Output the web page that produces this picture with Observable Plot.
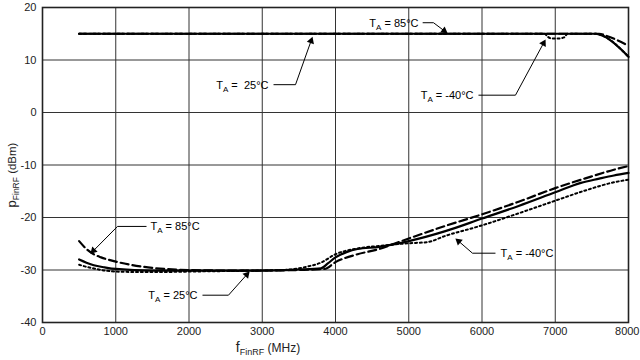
<!DOCTYPE html>
<html><head><meta charset="utf-8">
<script src="https://cdn.jsdelivr.net/npm/d3@7"></script>
<script src="https://cdn.jsdelivr.net/npm/@observablehq/plot@0.6"></script>
<style>
body{margin:0;background:#fff;}
#chart{width:640px;height:360px;}
</style>
</head><body><div id="chart"></div>
<script>
// ---------- data ----------
const xTicks = [0,1000,2000,3000,4000,5000,6000,7000,8000];
const yTicks = [-40,-30,-20,-10,0,10,20];

// upper curves (output power)
const up25X  = [500, 7550, 7650, 8000];
const up25Y  = [15, 15, 14.6, 10.6];
const up85X  = [500, 7600, 7700, 8000];
const up85Y  = [15, 15, 14.6, 12.7];
const upM40X = [500, 6850, 6900, 6950, 7050, 7120, 7170, 7550, 7650, 8000];
const upM40Y = [15, 15, 14.4, 14.1, 14.1, 14.3, 15, 15, 14.6, 10.6];

// lower curves
const lo25X  = [500,600,700,850,1000,1500,2000,2500,3000,3500,3800,3900,4000,4150,4300,4600,5000,5500,6000,6500,7000,7350,7600,7800,8000];
const lo25Y  = [-28,-28.6,-29.1,-29.5,-29.8,-30.1,-30.1,-30.1,-30.1,-29.9,-29.7,-28.7,-27.6,-26.6,-26,-25.6,-24.5,-22.6,-20.2,-17.8,-15.2,-13.4,-12.6,-12,-11.5];
const lo85X  = [500,600,700,800,1000,1200,1500,2000,2500,3000,3500,3850,4000,4300,4600,4800,5000,5500,6000,6500,7000,7400,7800,8000];
const lo85Y  = [-24.5,-26,-27,-27.6,-28.4,-29,-29.6,-30,-30.1,-30.1,-30,-29.8,-28.5,-27,-26,-25,-24,-21.6,-19.4,-17,-14.4,-12.6,-10.9,-10.2];
const loM40X = [500,600,700,850,1000,1500,2000,2500,3000,3300,3600,3800,4000,4300,4600,5000,5250,5500,6000,6500,7000,7400,7800,8000];
const loM40Y = [-29,-29.4,-29.7,-30.1,-30.3,-30.4,-30.3,-30.2,-30.1,-30,-29.4,-28.6,-27,-25.9,-25.4,-24.9,-24.7,-23.5,-21.5,-19.2,-16.8,-14.9,-13.3,-12.8];

// annotations (data coordinates)
const annLabels = ["T_{A} = 85°C","T_{A} =  25°C","T_{A} = -40°C","T_{A} = 85°C","T_{A} = 25°C","T_{A} = -40°C"];
const annTextX  = [5133, 3085, 5884, 1474, 2116, 6253];
const annTextY  = [17.0, 5.2, 3.3, -21.8, -34.8, -26.8];
const annAnchor = ["end","end","end","start","end","start"];
const annLeadX1 = [5190, 3154, 5952, 1420, 2184, 6184];
const annLeadX2 = [5338, 3454, 6457, 1024, 2539, 5870];
const annLeadY  = [17.1, 5.3, 3.3, -21.7, -34.8, -26.8];
const annTipX   = [5529, 3686, 6867, 655, 2826, 5638];
const annTipY   = [15.1, 14.4, 13.9, -26.9, -30.3, -24.0];

const xLabel = "f_{FinRF} (MHz)";
const yLabel = "p_{FinRF} (dBm)";

// ---------- build ----------
const W = 640, H = 360, mL = 42, mR = 12, mT = 7, mB = 38;
const xDomain = [0, 8000], yDomain = [-40, 20];
const sx = Plot.scale({x: {domain: xDomain, range: [mL, W - mR]}});
const sy = Plot.scale({y: {domain: yDomain, range: [H - mB, mT]}});

const pts = (xs, ys) => xs.map((x, i) => ({x, y: ys[i]}));
const headBack = 4.2; // px from tip to triangle centroid
const ann = annLabels.map((t, i) => {
  const p0x = sx.apply(annLeadX2[i]), p0y = sy.apply(annLeadY[i]);
  const p1x = sx.apply(annTipX[i]), p1y = sy.apply(annTipY[i]);
  const dx = p1x - p0x, dy = p1y - p0y, len = Math.hypot(dx, dy);
  const ux = dx / len, uy = dy / len;
  return {
    t, tx: annTextX[i], ty: annTextY[i], anchor: annAnchor[i],
    lx1: annLeadX1[i], lx2: annLeadX2[i], ly: annLeadY[i],
    ax: annTipX[i], ay: annTipY[i],
    hx: sx.invert(p1x - ux * headBack), hy: sy.invert(p1y - uy * headBack),
    rot: Math.atan2(ux, -uy) * 180 / Math.PI
  };
});

const font = "Arial, 'Liberation Sans', Helvetica, sans-serif";
const lineOpts = {x: "x", y: "y", stroke: "#000", strokeWidth: 2.2, curve: "monotone-x"};
const dashed = "8,4";
const dotted = "2,2.8";

const plot = Plot.plot({
  width: W, height: H,
  marginLeft: mL, marginRight: mR, marginTop: mT, marginBottom: mB,
  style: {fontFamily: font, fontSize: "11px", color: "#222", background: "#fff"},
  x: {domain: xDomain, label: null},
  y: {domain: yDomain, label: null},
  marks: [
    Plot.gridX(xTicks, {stroke: "#333", strokeOpacity: 1, strokeWidth: 1}),
    Plot.gridY(yTicks, {stroke: "#333", strokeOpacity: 1, strokeWidth: 1}),
    Plot.frame({stroke: "#222", strokeWidth: 1.6}),
    Plot.axisX(xTicks, {tickSize: 0, tickPadding: 5, label: null, fontSize: 11, tickFormat: d => String(d), className: "xax"}),
    Plot.axisY(yTicks, {tickSize: 0, tickPadding: 6, label: null, fontSize: 11, tickFormat: d => String(d)}),
    Plot.line(pts(up25X, up25Y), lineOpts),
    Plot.line(pts(up85X, up85Y), {...lineOpts, strokeDasharray: dashed}),
    Plot.line(pts(upM40X, upM40Y), {...lineOpts, strokeWidth: 2, strokeDasharray: dotted}),
    Plot.line(pts(lo25X, lo25Y), lineOpts),
    Plot.line(pts(lo85X, lo85Y), {...lineOpts, strokeDasharray: dashed}),
    Plot.line(pts(loM40X, loM40Y), {...lineOpts, strokeWidth: 2, strokeDasharray: dotted}),
    Plot.link(ann, {x1: "lx1", x2: "lx2", y1: "ly", y2: "ly", stroke: "#000", strokeWidth: 1}),
    Plot.link(ann, {x1: "lx2", y1: "ly", x2: "hx", y2: "hy", stroke: "#000", strokeWidth: 1}),
    Plot.dot(ann, {x: "hx", y: "hy", symbol: "triangle", r: 2.8, rotate: "rot", fill: "#000", stroke: "none"}),
    Plot.text(ann.filter(d => d.anchor === "end"), {x: "tx", y: "ty", text: "t", textAnchor: "end", fontSize: 11, fill: "#000", className: "anno"}),
    Plot.text(ann.filter(d => d.anchor === "start"), {x: "tx", y: "ty", text: "t", textAnchor: "start", fontSize: 11, fill: "#000", className: "anno"})
  ]
});

// rich text (subscripts) for labels
function richify(el, s, subSize, subDy) {
  const m = s.match(/^(.*?)_\{(.*?)\}(.*)$/);
  const sel = d3.select(el);
  sel.text(null);
  if (!m) { sel.text(s); return; }
  sel.append("tspan").text(m[1]);
  sel.append("tspan").attr("dy", subDy).attr("font-size", subSize).text(m[2]);
  sel.append("tspan").attr("dy", -subDy).text(m[3]);
}
const svg = d3.select(plot);
svg.selectAll("g.anno text").each(function() {
  richify(this, this.textContent, 8, 3);
});

// keep the last x tick label inside the picture
const xTexts = svg.selectAll("g.xax text").nodes();
if (xTexts.length) {
  const last = d3.select(xTexts[xTexts.length - 1]);
  last.attr("text-anchor", "end").attr("dx", 11);
}

const xl = svg.append("text")
  .attr("x", 268).attr("y", 352)
  .attr("font-family", font).attr("font-size", 12).attr("fill", "#222");
richify(xl.node(), xLabel, 9, 3);
xl.select("tspan").attr("font-size", 14);

const yl = svg.append("text")
  .attr("transform", "translate(16,175) rotate(-90)")
  .attr("text-anchor", "middle")
  .attr("font-family", font).attr("font-size", 11.5).attr("fill", "#222");
richify(yl.node(), yLabel, 8.5, 3);
yl.select("tspan").attr("font-size", 13);

document.getElementById("chart").appendChild(plot);
</script>
</body></html>
